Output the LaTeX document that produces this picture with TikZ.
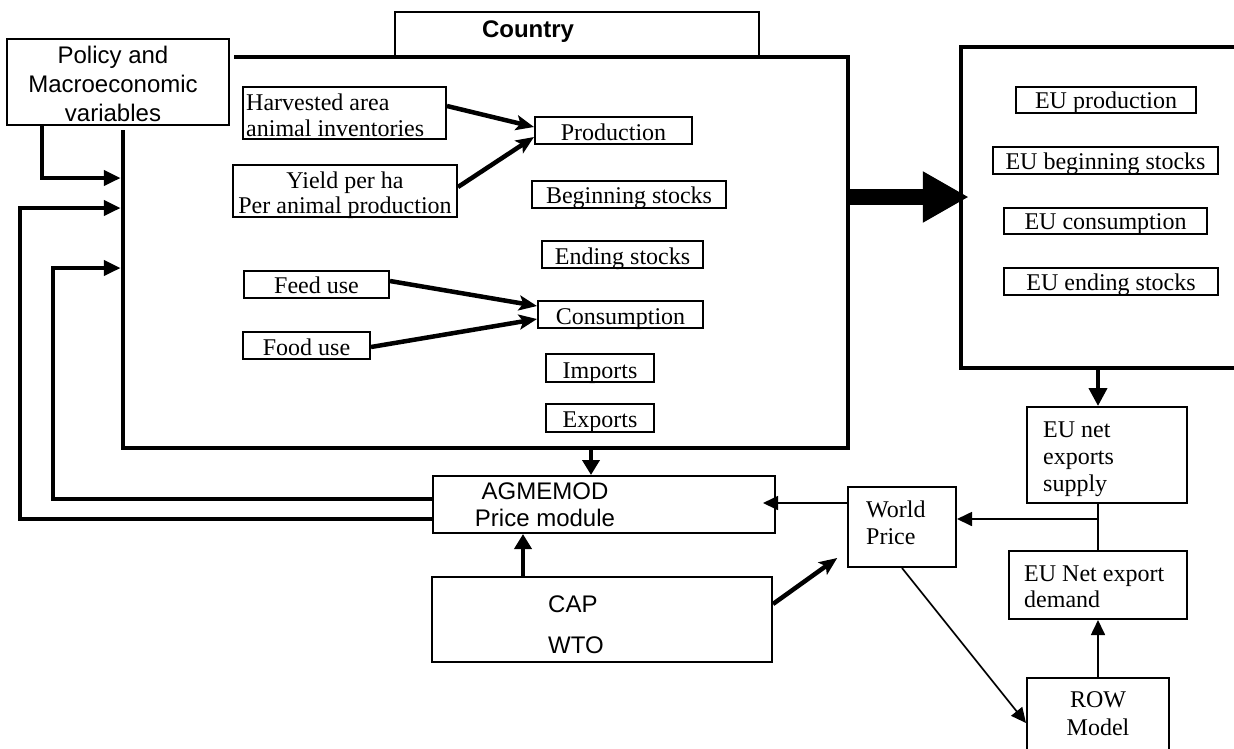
\documentclass[tikz,border=0pt]{standalone}
\usepackage{fontspec}
\setmainfont{Liberation Serif}
\setsansfont{Liberation Sans}
\usetikzlibrary{arrows.meta}
\begin{document}
\begin{tikzpicture}[x=1pt,y=-1pt,
  cframe/.style={draw, line width=4.5pt, inner sep=0pt},
  bx/.style={draw, line width=2pt, inner sep=0pt},
  ser/.style={font=\fontsize{24}{27}\selectfont},
  tx/.style={inner sep=0pt, anchor=base},
  txl/.style={inner sep=0pt, anchor=base west},
  thk/.style={line width=4.5pt},
  thn/.style={line width=1.7pt},
  bigtri/.style={-{Triangle[length=17pt,width=15pt]}},
  vtri/.style={-{Triangle[length=15pt,width=17pt]}},
  stl/.style={-{Stealth[length=18pt,width=15pt,inset=4pt]}},
  thintri/.style={-{Triangle[length=15pt,width=14pt]}}
]
\useasboundingbox (0,0) rectangle (1234,748);
\begin{scope}
\clip (0,0) rectangle (1234,748);

% Country frame and label
\node[bx, minimum width=364pt, minimum height=45pt] (countrybox) at (577,34.5) {};
\node[tx, font=\sffamily\bfseries\fontsize{24}{27}\selectfont] (countrylbl) at (528,37) {Country};
\node[cframe, minimum width=725pt, minimum height=391pt] (country) at (485.5,252.5) {};

% EU frame
\node[cframe, minimum width=289pt, minimum height=321pt] (eu) at (1105.5,207.5) {};

% Policy box
\node[bx, minimum width=222pt, minimum height=86pt, fill=white,
      preaction={draw=white, line width=10pt}] (policy) at (118,82) {};
\node[tx, font=\sffamily\fontsize{24}{29}\selectfont] (policyt) at (113,63)
  {\begin{tabular}[t]{@{}c@{}}Policy and\\Macroeconomic\\variables\end{tabular}};

% Inputs inside country
\node[bx, minimum width=203pt, minimum height=52pt] (harv) at (344.5,113) {};
\node[txl, font=\fontsize{24}{26}\selectfont] (harvt) at (246,110)
  {\begin{tabular}[t]{@{}l@{}}Harvested area\\animal inventories\end{tabular}};
\node[bx, minimum width=224pt, minimum height=52pt] (yield) at (345,191) {};
\node[tx, font=\fontsize{24}{25}\selectfont] (yieldt) at (345,188)
  {\begin{tabular}[t]{@{}c@{}}Yield per ha\\Per animal production\end{tabular}};
\node[bx, ser, minimum width=145pt, text height=22pt, text depth=5pt] (feed) at (316.5,284.5) {Feed use};
\node[bx, ser, minimum width=127pt, text height=23pt, text depth=4pt] (food) at (306.5,345.5) {Food use};

% Balance items
\node[bx, ser, minimum width=157pt, text height=23pt, text depth=4pt] (prod) at (613.5,130.5) {Production};
\node[bx, ser, minimum width=194pt, text height=22pt, text depth=5pt] (begs) at (629,194.5) {Beginning stocks};
\node[bx, ser, minimum width=161pt, text height=23pt, text depth=4pt] (ends) at (622.5,254.5) {Ending stocks};
\node[bx, ser, minimum width=165pt, text height=23pt, text depth=4pt] (cons) at (620.5,314.5) {Consumption};
\node[bx, ser, minimum width=108pt, text height=24pt, text depth=4pt] (imp) at (600,368) {Imports};
\node[bx, ser, minimum width=108pt, text height=23pt, text depth=5pt] (exp) at (600,418) {Exports};

% EU items
\node[bx, ser, minimum width=180pt, text height=21pt, text depth=5pt] (euprod) at (1106,100) {EU production};
\node[bx, ser, minimum width=225pt, text height=22pt, text depth=5pt] (eubeg) at (1105.5,160.5) {EU beginning stocks};
\node[bx, ser, minimum width=203pt, text height=21pt, text depth=5pt] (eucons) at (1105.5,221) {EU consumption};
\node[bx, ser, minimum width=214pt, text height=22pt, text depth=5pt] (euend) at (1111,281.5) {EU ending stocks};

% Lower boxes
\node[bx, minimum width=342pt, minimum height=57pt] (agm) at (604,504.5) {};
\node[tx, font=\sffamily\fontsize{24}{27}\selectfont] (agmt) at (545,499)
  {\begin{tabular}[t]{@{}c@{}}AGMEMOD\\Price module\end{tabular}};
\node[bx, minimum width=340pt, minimum height=85pt] (cap) at (602,619.5) {};
\node[txl, font=\sffamily\fontsize{24}{41}\selectfont] (capt) at (548,612)
  {\begin{tabular}[t]{@{}l@{}}CAP\\WTO\end{tabular}};
\node[bx, minimum width=108pt, minimum height=80pt] (wp) at (902,527) {};
\node[txl, font=\fontsize{24}{27}\selectfont] (wpt) at (866,517)
  {\begin{tabular}[t]{@{}l@{}}World\\Price\end{tabular}};
\node[bx, minimum width=160pt, minimum height=96pt] (eunet) at (1107,455) {};
\node[txl, font=\fontsize{24}{27}\selectfont] (eunett) at (1043,437)
  {\begin{tabular}[t]{@{}l@{}}EU net\\exports\\supply\end{tabular}};
\node[bx, minimum width=178pt, minimum height=68pt] (eudem) at (1098,585) {};
\node[txl, font=\fontsize{24}{26}\selectfont] (eudemt) at (1024,581)
  {\begin{tabular}[t]{@{}l@{}}EU Net export\\demand\end{tabular}};
\node[bx, minimum width=142pt, minimum height=90pt] (row) at (1098,723) {};
\node[tx, font=\fontsize{24}{28}\selectfont] (rowt) at (1098,707)
  {\begin{tabular}[t]{@{}c@{}}ROW\\Model\end{tabular}};

% Arrows into country frame
\draw[thk, bigtri] (policy.south -| 42,0) |- (country.west |- 0,178);
\draw[thk, bigtri] (agm.west |- 0,519) -| (20,208) -- (country.west |- 0,208);
\draw[thk, bigtri] (agm.west |- 0,499) -| (53,268) -- (country.west |- 0,268);

% Arrows inside country
\draw[thk, stl] (harv.east |- 0,106) -- (prod.west |- 0,127);
\draw[thk, stl] (yield.east |- 0,187) -- (prod.west |- 0,137);
\draw[thk, stl] (feed.east |- 0,281) -- (cons.west |- 0,306);
\draw[thk, stl] (food.east |- 0,347) -- (cons.west |- 0,319);

% Country to EU
\draw[line width=16pt, -{Triangle[length=46pt,width=48pt]}, shorten >=-10pt]
  (country.east |- 0,197) -- (eu.west |- 0,197);

% Vertical thick arrows
\draw[thk, vtri] (country.south -| 591,0) -- (agm.north -| 591,0);
\draw[thk, vtri] (cap.north -| 523,0) -- (agm.south -| 523,0);
\draw[thk, stl, shorten >=12pt] (cap.east |- 0,604) -- (wp.west |- 0,551);
\draw[line width=4pt, -{Triangle[length=18pt,width=18pt]}] (eu.south -| eudem.north) -- (eunet.north -| eudem.north);

% Thin connectors
\draw[thn, thintri, shorten >=-13pt] (wp.west |- 0,503) -- (agm.east |- 0,503);
\draw[thn] (eudem.north |- eunet.south) -- (eudem.north);
\draw[thn, thintri] (eudem.north |- 0,519) -- (wp.east |- 0,519);
\draw[thn, thintri] (row.north) -- (eudem.south);
\draw[thn, thintri] (wp.south) -- (row.west |- 0,723);
\end{scope}
\end{tikzpicture}
\end{document}
